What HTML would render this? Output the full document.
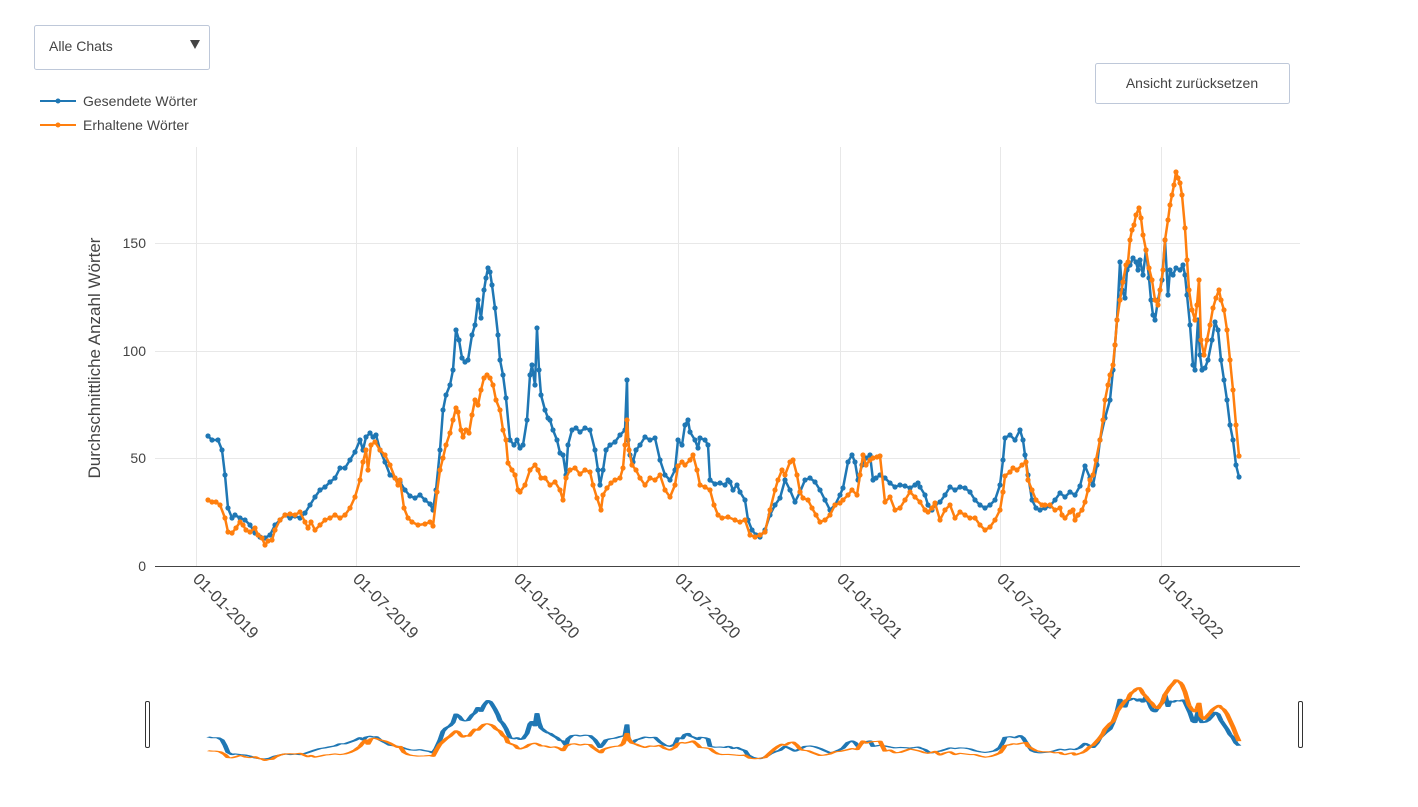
<!DOCTYPE html>
<html><head><meta charset="utf-8"><style>
body{margin:0;width:1418px;height:802px;background:#fff;overflow:hidden;font-family:"Liberation Sans",sans-serif}
svg text{font-family:"Liberation Sans",sans-serif}
</style></head><body>
<svg width="1418" height="802" xmlns="http://www.w3.org/2000/svg">
<defs>
<marker id="mb" markerUnits="userSpaceOnUse" markerWidth="8" markerHeight="8" refX="4" refY="4"><circle cx="4" cy="4" r="2.6" fill="#1f77b4"/></marker>
<marker id="mo" markerUnits="userSpaceOnUse" markerWidth="8" markerHeight="8" refX="4" refY="4"><circle cx="4" cy="4" r="2.6" fill="#ff7f0e"/></marker>
<polyline id="b" fill="none" points="208,436 212,440 218,440 222,450 225,475 228,508 232,518 235,515 240,518 245,520 250,525 255,533 260,537 265,538 270,535 275,525 280,520 285,515 290,518 295,516 300,518 305,513 310,505 315,497 320,490 325,487 330,482 335,478 340,468 345,468 350,460 355,452 360,440 363,450 366,437 370,433 373,437 376,435 380,450 385,462 390,475 395,478 400,482 405,490 410,496 415,498 420,495 425,500 430,504 433,510 436,490 440,450 443,410 446,395 450,385 453,370 456,330 459,340 462,358 465,362 468,360 472,335 475,325 478,300 481,318 484,290 486,278 488,268 490,272 492,285 495,308 498,335 500,360 503,375 506,398 510,440 514,445 517,440 520,448 523,445 527,420 530,375 532,365 535,385 537,328 539,370 541,395 545,410 548,418 550,420 553,430 557,440 560,453 563,455 566,475 568,445 572,430 576,428 580,432 585,428 590,430 595,450 598,470 600,485 603,470 606,450 610,445 615,442 620,435 625,430 627,380 628,440 630,455 633,462 636,450 640,445 645,437 650,440 655,438 660,460 665,475 670,480 675,470 678,440 682,445 685,425 688,420 690,432 695,440 698,448 700,438 705,440 708,445 710,480 715,484 720,483 725,485 728,480 730,482 733,490 737,485 740,492 745,500 748,520 752,530 756,535 760,537 765,530 770,515 775,505 780,498 785,480 790,490 795,502 800,492 805,480 810,478 815,482 820,490 825,500 830,510 835,505 840,495 843,488 848,462 852,455 855,462 858,480 862,465 866,458 870,455 873,480 876,478 880,475 885,478 890,483 895,487 900,485 905,486 910,488 915,485 918,483 920,487 925,495 928,505 932,510 935,505 940,502 945,495 950,487 955,490 960,487 965,488 970,492 975,500 980,505 985,508 990,505 995,500 1000,485 1003,460 1005,438 1010,435 1015,440 1020,430 1023,440 1025,455 1028,475 1032,500 1036,508 1040,510 1045,508 1050,506 1055,500 1060,493 1065,497 1070,492 1075,495 1080,486 1085,466 1090,478 1093,485 1097,465 1100,440 1105,418 1110,400 1113,370 1115,345 1117,320 1120,262 1122,290 1125,298 1127,270 1130,265 1133,258 1136,262 1138,270 1140,260 1143,275 1146,250 1149,278 1151,300 1153,315 1155,320 1158,300 1162,280 1165,240 1168,295 1170,270 1173,275 1176,268 1180,270 1183,265 1185,275 1187,295 1190,325 1193,365 1195,370 1198,320 1200,355 1202,370 1205,368 1208,360 1212,340 1215,322 1218,330 1221,360 1224,380 1227,400 1230,425 1233,440 1236,465 1239,477"/>
<polyline id="o" fill="none" points="208,500 212,502 216,502 220,505 225,518 228,532 232,533 236,528 240,522 243,525 246,530 250,532 255,528 258,535 262,538 265,545 268,541 272,540 275,530 280,520 285,515 290,514 295,515 300,512 305,522 308,528 311,522 315,530 320,525 325,520 330,518 335,515 340,518 345,515 350,508 355,497 360,480 363,462 366,450 368,470 371,445 375,442 380,450 385,455 390,465 395,478 398,485 400,480 404,508 408,518 412,522 418,525 425,524 430,522 433,526 437,492 440,470 443,458 446,445 450,433 453,420 456,408 458,412 461,430 463,437 466,430 469,433 472,415 475,400 478,405 481,390 484,378 487,375 490,378 493,385 496,400 500,410 503,430 506,440 508,463 512,470 515,475 518,490 520,492 525,485 530,470 535,465 538,470 541,478 545,478 550,485 555,482 560,490 563,500 566,478 570,470 575,468 580,474 585,470 590,472 593,485 597,498 601,510 603,495 607,488 611,483 615,480 620,478 623,468 625,445 627,420 629,450 632,465 636,470 640,478 645,485 650,478 655,480 660,475 665,490 670,497 675,485 678,466 682,462 685,465 690,460 693,455 697,470 700,485 705,487 710,490 714,505 718,515 722,518 728,517 735,520 740,522 745,520 750,535 755,537 760,535 765,532 770,510 775,490 778,480 782,470 785,475 790,462 793,460 797,475 800,492 803,498 808,500 812,508 816,515 820,522 825,520 830,515 835,505 840,503 843,500 848,495 852,490 857,495 860,475 863,455 866,465 870,460 873,458 877,457 880,456 885,502 890,497 895,510 900,508 905,500 910,492 915,497 920,502 925,510 928,512 932,508 935,503 940,520 945,510 950,505 955,518 960,512 965,515 970,518 975,518 980,525 985,530 990,527 995,520 1000,510 1003,492 1005,476 1010,472 1013,468 1017,470 1022,465 1026,462 1028,480 1032,490 1036,500 1042,505 1045,505 1050,505 1055,510 1060,508 1062,515 1065,518 1070,512 1073,510 1075,520 1078,515 1082,510 1085,502 1088,490 1090,480 1093,475 1096,460 1100,440 1103,420 1105,400 1108,385 1110,375 1113,365 1115,345 1117,320 1120,300 1123,282 1126,265 1128,262 1130,240 1132,230 1134,225 1136,215 1139,208 1141,218 1143,235 1146,250 1149,268 1152,280 1155,300 1158,305 1160,290 1163,270 1165,240 1168,220 1170,205 1172,195 1174,185 1176,172 1178,178 1180,183 1182,195 1185,228 1187,260 1189,290 1192,310 1195,320 1197,305 1199,280 1201,340 1204,355 1207,340 1210,325 1213,308 1216,298 1219,290 1221,300 1224,310 1227,330 1230,360 1233,390 1236,425 1239,456"/>
</defs>
<g stroke="#e8e8e8" stroke-width="1">
<line x1="155" x2="1300" y1="458.5" y2="458.5"/><line x1="155" x2="1300" y1="351.5" y2="351.5"/><line x1="155" x2="1300" y1="243.5" y2="243.5"/>
<line x1="196.5" x2="196.5" y1="147" y2="566"/><line x1="356.5" x2="356.5" y1="147" y2="566"/><line x1="517.5" x2="517.5" y1="147" y2="566"/><line x1="678.5" x2="678.5" y1="147" y2="566"/><line x1="840.5" x2="840.5" y1="147" y2="566"/><line x1="1000.5" x2="1000.5" y1="147" y2="566"/><line x1="1161.5" x2="1161.5" y1="147" y2="566"/>
</g>
<line x1="155" x2="1300" y1="566.5" y2="566.5" stroke="#444"/>
<g font-size="14" fill="#444" text-anchor="end">
<text x="146" y="571">0</text><text x="146" y="463">50</text><text x="146" y="356">100</text><text x="146" y="248">150</text>
</g>
<g font-size="16.5" fill="#444">
<text transform="translate(192,580) rotate(45)">01-01-2019</text>
<text transform="translate(352,580) rotate(45)">01-07-2019</text>
<text transform="translate(513,580) rotate(45)">01-01-2020</text>
<text transform="translate(674,580) rotate(45)">01-07-2020</text>
<text transform="translate(836,580) rotate(45)">01-01-2021</text>
<text transform="translate(996,580) rotate(45)">01-07-2021</text>
<text transform="translate(1157,580) rotate(45)">01-01-2022</text>
</g>
<text transform="translate(100,358) rotate(-90)" font-size="17" fill="#444" text-anchor="middle">Durchschnittliche Anzahl Wörter</text>
<use href="#b" stroke="#1f77b4" stroke-width="2.5" stroke-linejoin="round" marker-start="url(#mb)" marker-mid="url(#mb)" marker-end="url(#mb)"/>
<use href="#o" stroke="#ff7f0e" stroke-width="2.5" stroke-linejoin="round" marker-start="url(#mo)" marker-mid="url(#mo)" marker-end="url(#mo)"/>
<g transform="translate(0,642.7) scale(1,0.216)">
<use href="#b" stroke="#1f77b4" stroke-width="5" vector-effect="non-scaling-stroke" stroke-linejoin="round"/>
<use href="#o" stroke="#ff7f0e" stroke-width="5" vector-effect="non-scaling-stroke" stroke-linejoin="round"/>
</g>
<rect x="145.5" y="701.5" width="4" height="46" rx="1.5" fill="#fff" stroke="#333"/>
<rect x="1298.5" y="701.5" width="4" height="46" rx="1.5" fill="#fff" stroke="#333"/>
<line x1="40" x2="76" y1="101" y2="101" stroke="#1f77b4" stroke-width="2"/><circle cx="58" cy="101" r="2.5" fill="#1f77b4"/>
<text x="83" y="106" font-size="14" fill="#444">Gesendete Wörter</text>
<line x1="40" x2="76" y1="125" y2="125" stroke="#ff7f0e" stroke-width="2"/><circle cx="58" cy="125" r="2.5" fill="#ff7f0e"/>
<text x="83" y="130" font-size="14" fill="#444">Erhaltene Wörter</text>
<rect x="34.5" y="25.5" width="175" height="44" rx="2" fill="#fff" stroke="#bec8d9"/>
<text x="49" y="51" font-size="14" fill="#444">Alle Chats</text>
<path d="M190,40 L200,40 L195,49 Z" fill="#444"/>
<rect x="1095.5" y="63.5" width="194" height="40" rx="2" fill="#fff" stroke="#bec8d9"/>
<text x="1192" y="88" font-size="14" fill="#444" text-anchor="middle">Ansicht zurücksetzen</text>
</svg>
</body></html>
